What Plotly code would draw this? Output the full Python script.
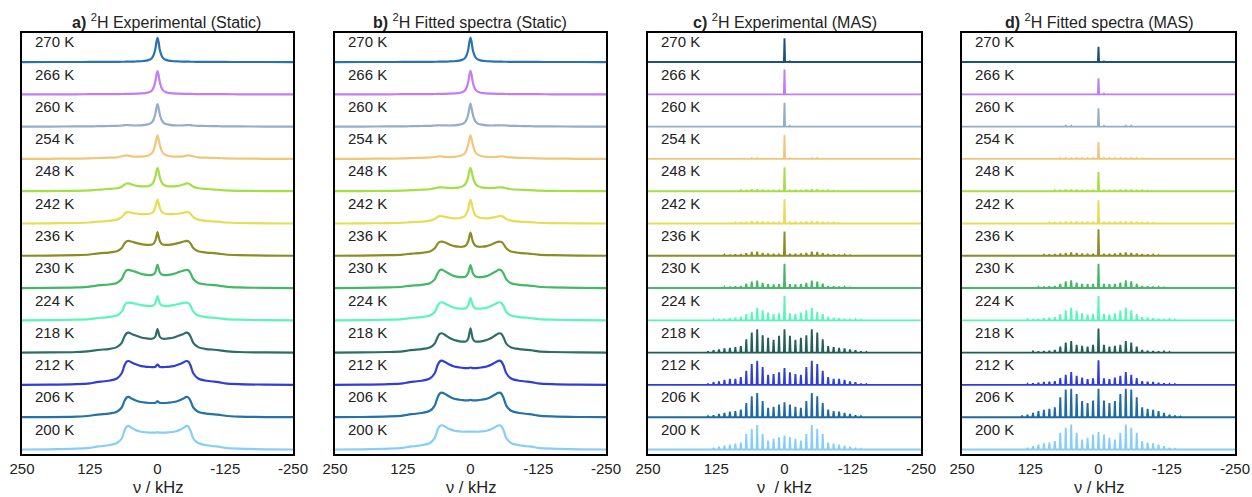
import plotly.graph_objects as go

# ---------------------------------------------------------------- data
TEMPS = ["270 K", "266 K", "260 K", "254 K", "248 K", "242 K", "236 K",
         "230 K", "224 K", "218 K", "212 K", "206 K", "200 K"]

STATIC_COLORS = ["#2773b0", "#c47cf6", "#93adca", "#f2c67a", "#a2e046",
                 "#e8dc55", "#8c8c24", "#44b864", "#5af5b9", "#2c6e66",
                 "#2f3fd4", "#2372a8", "#86cdfa"]
MAS_COLORS = ["#1c527c", "#c47cf6", "#93adca", "#f2c67a", "#a2e046",
              "#e8dc55", "#8c8c24", "#44b864", "#5af5b9", "#235f58",
              "#2f3fd4", "#1f6aa0", "#86cdfa"]

PANEL_TITLES = ["<b>a)</b> <sup>2</sup>H Experimental (Static)",
                "<b>b)</b> <sup>2</sup>H Fitted spectra (Static)",
                "<b>c)</b> <sup>2</sup>H Experimental (MAS)",
                "<b>d)</b> <sup>2</sup>H Fitted spectra (MAS)"]
AXIS_TITLES = ["\u03bd / kHz", "\u03bd / kHz", "\u03bd  / kHz", "\u03bd / kHz"]
TICK_VALS = [250, 125, 0, -125, -250]
TICK_TEXT = ["250", "125", "0", "-125", "-250"]

# static line shapes: intensity (row units) at |nu| in kHz, one row per temperature
STATIC_NU = [0, 2, 4, 7, 10, 15, 20, 30, 40, 48, 53, 57, 61, 66, 75, 90,
             105, 115, 125, 150, 200, 250]

exp_static = [
    [0.75, 0.62, 0.40, 0.22, 0.13, 0.07, 0.045, 0.025, 0.018, 0.014, 0.012, 0.011, 0.010, 0.009, 0.008, 0.006, 0.005, 0.004, 0.003, 0.002, 0.001, 0],
    [0.72, 0.60, 0.40, 0.22, 0.13, 0.07, 0.045, 0.030, 0.020, 0.016, 0.014, 0.013, 0.012, 0.010, 0.009, 0.007, 0.006, 0.005, 0.004, 0.002, 0.001, 0],
    [0.70, 0.58, 0.40, 0.23, 0.14, 0.08, 0.060, 0.040, 0.035, 0.040, 0.045, 0.050, 0.045, 0.035, 0.025, 0.020, 0.015, 0.012, 0.008, 0.005, 0.002, 0],
    [0.73, 0.62, 0.45, 0.28, 0.18, 0.12, 0.090, 0.070, 0.070, 0.080, 0.100, 0.110, 0.100, 0.080, 0.050, 0.040, 0.030, 0.025, 0.015, 0.010, 0.004, 0],
    [0.72, 0.62, 0.45, 0.30, 0.22, 0.17, 0.150, 0.150, 0.170, 0.210, 0.240, 0.240, 0.200, 0.140, 0.090, 0.070, 0.050, 0.040, 0.025, 0.012, 0.004, 0],
    [0.74, 0.64, 0.50, 0.38, 0.33, 0.30, 0.290, 0.290, 0.310, 0.330, 0.350, 0.350, 0.300, 0.200, 0.120, 0.080, 0.060, 0.050, 0.030, 0.015, 0.005, 0],
    [0.73, 0.60, 0.47, 0.38, 0.35, 0.34, 0.340, 0.360, 0.400, 0.440, 0.460, 0.450, 0.380, 0.240, 0.140, 0.100, 0.080, 0.060, 0.040, 0.020, 0.005, 0],
    [0.73, 0.62, 0.50, 0.43, 0.41, 0.40, 0.410, 0.440, 0.500, 0.540, 0.560, 0.550, 0.460, 0.280, 0.160, 0.110, 0.090, 0.070, 0.045, 0.020, 0.005, 0],
    [0.75, 0.65, 0.53, 0.47, 0.45, 0.44, 0.450, 0.470, 0.510, 0.540, 0.550, 0.540, 0.450, 0.270, 0.150, 0.100, 0.080, 0.060, 0.040, 0.020, 0.005, 0],
    [0.74, 0.62, 0.50, 0.45, 0.43, 0.43, 0.440, 0.470, 0.530, 0.580, 0.620, 0.600, 0.500, 0.300, 0.170, 0.110, 0.090, 0.070, 0.045, 0.020, 0.005, 0],
    [0.63, 0.60, 0.56, 0.55, 0.55, 0.555, 0.560, 0.580, 0.640, 0.700, 0.740, 0.720, 0.600, 0.360, 0.200, 0.130, 0.100, 0.080, 0.050, 0.025, 0.006, 0],
    [0.50, 0.47, 0.45, 0.44, 0.44, 0.44, 0.450, 0.470, 0.520, 0.580, 0.630, 0.610, 0.500, 0.300, 0.170, 0.110, 0.090, 0.070, 0.045, 0.020, 0.005, 0],
    [0.53, 0.53, 0.52, 0.52, 0.52, 0.52, 0.530, 0.550, 0.600, 0.670, 0.730, 0.710, 0.580, 0.340, 0.200, 0.130, 0.100, 0.080, 0.050, 0.025, 0.006, 0],
]

fit_static = [
    [0.76, 0.62, 0.40, 0.22, 0.13, 0.07, 0.045, 0.025, 0.018, 0.014, 0.012, 0.011, 0.010, 0.009, 0.008, 0.006, 0.005, 0.004, 0.003, 0.002, 0.001, 0],
    [0.73, 0.60, 0.40, 0.22, 0.13, 0.07, 0.045, 0.030, 0.020, 0.016, 0.014, 0.013, 0.012, 0.010, 0.009, 0.007, 0.006, 0.005, 0.004, 0.002, 0.001, 0],
    [0.71, 0.58, 0.40, 0.23, 0.14, 0.08, 0.060, 0.040, 0.035, 0.038, 0.040, 0.042, 0.040, 0.035, 0.025, 0.020, 0.015, 0.012, 0.008, 0.005, 0.002, 0],
    [0.73, 0.62, 0.46, 0.29, 0.18, 0.12, 0.090, 0.065, 0.060, 0.065, 0.075, 0.080, 0.075, 0.060, 0.045, 0.035, 0.028, 0.022, 0.015, 0.010, 0.004, 0],
    [0.72, 0.62, 0.46, 0.30, 0.21, 0.15, 0.120, 0.100, 0.100, 0.110, 0.120, 0.120, 0.110, 0.090, 0.060, 0.045, 0.035, 0.028, 0.018, 0.010, 0.004, 0],
    [0.74, 0.63, 0.48, 0.32, 0.24, 0.19, 0.170, 0.160, 0.180, 0.210, 0.230, 0.230, 0.200, 0.140, 0.090, 0.060, 0.045, 0.035, 0.022, 0.012, 0.004, 0],
    [0.72, 0.60, 0.46, 0.35, 0.30, 0.28, 0.280, 0.300, 0.360, 0.420, 0.440, 0.430, 0.360, 0.230, 0.130, 0.090, 0.070, 0.055, 0.035, 0.018, 0.005, 0],
    [0.72, 0.61, 0.48, 0.39, 0.35, 0.34, 0.340, 0.370, 0.450, 0.530, 0.570, 0.550, 0.450, 0.270, 0.150, 0.100, 0.080, 0.065, 0.040, 0.020, 0.005, 0],
    [0.70, 0.60, 0.48, 0.40, 0.37, 0.36, 0.360, 0.390, 0.460, 0.530, 0.560, 0.540, 0.440, 0.260, 0.150, 0.100, 0.080, 0.060, 0.040, 0.020, 0.005, 0],
    [0.75, 0.60, 0.44, 0.36, 0.34, 0.34, 0.350, 0.390, 0.470, 0.560, 0.600, 0.580, 0.470, 0.280, 0.160, 0.110, 0.085, 0.065, 0.040, 0.020, 0.005, 0],
    [0.54, 0.53, 0.52, 0.52, 0.52, 0.53, 0.540, 0.570, 0.640, 0.720, 0.750, 0.720, 0.600, 0.360, 0.200, 0.130, 0.100, 0.080, 0.050, 0.025, 0.006, 0],
    [0.54, 0.53, 0.52, 0.52, 0.52, 0.53, 0.540, 0.570, 0.650, 0.730, 0.760, 0.730, 0.600, 0.360, 0.200, 0.130, 0.100, 0.080, 0.050, 0.025, 0.006, 0],
    [0.55, 0.55, 0.55, 0.55, 0.55, 0.55, 0.560, 0.580, 0.640, 0.720, 0.750, 0.720, 0.600, 0.350, 0.200, 0.130, 0.100, 0.080, 0.050, 0.025, 0.006, 0],
]

# MAS spectra: spinning-sideband heights (row units) for orders n = 0..15
SPIN_RATE_KHZ = 10.0

exp_mas = [
    [0.74, 0.02, 0.02, 0.02, 0.02, 0.02, 0.02, 0.015, 0.01, 0.01, 0.01, 0, 0, 0, 0, 0],
    [0.77, 0.015, 0.015, 0.015, 0.015, 0.015, 0.015, 0.01, 0.01, 0.01, 0, 0, 0, 0, 0, 0],
    [0.74, 0.02, 0.02, 0.02, 0.02, 0.02, 0.02, 0.015, 0.01, 0.01, 0.01, 0, 0, 0, 0, 0],
    [0.75, 0.02, 0.02, 0.02, 0.02, 0.025, 0.025, 0.02, 0.015, 0.01, 0.01, 0, 0, 0, 0, 0],
    [0.74, 0.04, 0.04, 0.04, 0.05, 0.06, 0.06, 0.04, 0.03, 0.02, 0.015, 0.01, 0, 0, 0, 0],
    [0.75, 0.05, 0.05, 0.05, 0.06, 0.07, 0.07, 0.05, 0.04, 0.03, 0.02, 0.015, 0.01, 0, 0, 0],
    [0.75, 0.06, 0.06, 0.07, 0.09, 0.13, 0.12, 0.08, 0.05, 0.04, 0.035, 0.03, 0.02, 0.01, 0, 0],
    [0.75, 0.12, 0.11, 0.12, 0.16, 0.23, 0.20, 0.14, 0.06, 0.05, 0.04, 0.03, 0.02, 0.015, 0.01, 0],
    [0.75, 0.22, 0.19, 0.24, 0.31, 0.39, 0.26, 0.19, 0.11, 0.08, 0.06, 0.05, 0.04, 0.03, 0.02, 0.01],
    [0.72, 0.52, 0.40, 0.46, 0.54, 0.72, 0.62, 0.41, 0.20, 0.17, 0.15, 0.13, 0.10, 0.07, 0.04, 0.02],
    [0.52, 0.39, 0.34, 0.31, 0.55, 0.75, 0.65, 0.44, 0.24, 0.19, 0.19, 0.16, 0.11, 0.08, 0.04, 0.02],
    [0.46, 0.39, 0.32, 0.29, 0.50, 0.75, 0.65, 0.44, 0.24, 0.19, 0.17, 0.13, 0.10, 0.06, 0.03, 0.01],
    [0.43, 0.38, 0.33, 0.28, 0.48, 0.76, 0.64, 0.48, 0.21, 0.18, 0.15, 0.12, 0.09, 0.05, 0.02, 0.01],
]

fit_mas = [
    [0.47, 0.02, 0.02, 0.02, 0.02, 0.02, 0.02, 0.015, 0.01, 0.01, 0.01, 0, 0, 0, 0, 0],
    [0.50, 0.02, 0.02, 0.02, 0.02, 0.02, 0.02, 0.015, 0.01, 0.01, 0.01, 0, 0, 0, 0, 0],
    [0.57, 0.02, 0.02, 0.02, 0.02, 0.025, 0.025, 0.02, 0.015, 0.01, 0.01, 0, 0, 0, 0, 0],
    [0.52, 0.025, 0.025, 0.025, 0.03, 0.035, 0.03, 0.025, 0.02, 0.015, 0.01, 0, 0, 0, 0, 0],
    [0.59, 0.04, 0.04, 0.04, 0.05, 0.05, 0.05, 0.04, 0.03, 0.02, 0.015, 0.01, 0, 0, 0, 0],
    [0.72, 0.05, 0.05, 0.05, 0.06, 0.06, 0.06, 0.05, 0.04, 0.03, 0.02, 0.015, 0.01, 0, 0, 0],
    [0.82, 0.06, 0.06, 0.07, 0.09, 0.10, 0.09, 0.07, 0.05, 0.04, 0.03, 0.02, 0.015, 0.01, 0, 0],
    [0.75, 0.13, 0.12, 0.13, 0.17, 0.24, 0.21, 0.13, 0.06, 0.05, 0.04, 0.03, 0.02, 0.015, 0.01, 0],
    [0.75, 0.20, 0.18, 0.22, 0.30, 0.39, 0.31, 0.19, 0.10, 0.08, 0.06, 0.05, 0.04, 0.03, 0.02, 0.01],
    [0.75, 0.24, 0.19, 0.21, 0.24, 0.36, 0.31, 0.19, 0.08, 0.06, 0.05, 0.04, 0.03, 0.02, 0.01, 0],
    [0.76, 0.20, 0.18, 0.23, 0.28, 0.40, 0.31, 0.21, 0.12, 0.10, 0.09, 0.07, 0.05, 0.03, 0.02, 0],
    [0.88, 0.52, 0.44, 0.50, 0.72, 0.88, 0.86, 0.62, 0.31, 0.26, 0.23, 0.19, 0.13, 0.08, 0.05, 0.02],
    [0.54, 0.46, 0.36, 0.31, 0.52, 0.77, 0.67, 0.52, 0.26, 0.21, 0.19, 0.15, 0.10, 0.05, 0.02, 0.01],
]

# ---------------------------------------------------------------- layout
W, H = 1252, 497
FONT = "Liberation Sans, Arial, sans-serif"
TEXT_COLOR = "#222222"
PANEL_X = [(22, 293), (335, 606), (648, 921), (962, 1235)]   # plot areas, px
PLOT_TOP, PLOT_BOTTOM = 33, 454
TITLE_CENTERS = [166, 470, 785, 1099]
N_ROWS = len(TEMPS)
Y_RANGE = [-0.14, N_ROWS - 0.1]
LABEL_NU = 190
LABEL_LIFT = 0.63


def mirrored(nu, vals):
    xs = [-v for v in reversed(nu)] + list(nu[1:])
    ys = list(reversed(vals)) + list(vals[1:])
    return xs, ys


def stick_spectrum(heights, rate, half_width=1.1, limit=250):
    xs, ys = [limit], [0.0]
    orders = list(range(len(heights) - 1, -len(heights), -1))
    for n in orders:
        h = heights[abs(n)]
        c = n * rate
        xs += [c + half_width, c, c - half_width]
        ys += [0.0, h, 0.0]
    xs.append(-limit)
    ys.append(0.0)
    return xs, ys


fig = go.Figure()
panels = [("static", exp_static, STATIC_COLORS),
          ("static", fit_static, STATIC_COLORS),
          ("mas", exp_mas, MAS_COLORS),
          ("mas", fit_mas, MAS_COLORS)]

annotations = []
for p, (kind, rows, colors) in enumerate(panels):
    ax = "" if p == 0 else str(p + 1)
    xref, yref = "x" + ax, "y" + ax
    for i, vals in enumerate(rows):
        offset = N_ROWS - 1 - i
        if kind == "static":
            xs, ys = mirrored(STATIC_NU, vals)
            line = dict(color=colors[i], width=2.2, shape="spline", smoothing=0.7)
        else:
            xs, ys = stick_spectrum(vals, SPIN_RATE_KHZ)
            line = dict(color=colors[i], width=1.9)
        fig.add_trace(go.Scatter(
            x=xs, y=[offset + v for v in ys], mode="lines", line=line,
            hoverinfo="skip", showlegend=False, xaxis=xref, yaxis=yref))
        annotations.append(dict(
            x=LABEL_NU, y=offset + LABEL_LIFT, xref=xref, yref=yref,
            text=TEMPS[i], showarrow=False, xanchor="center", yanchor="middle",
            font=dict(family=FONT, size=15, color=TEXT_COLOR)))

    x0, x1 = PANEL_X[p]
    fig.layout["xaxis" + ax] = dict(
        domain=[x0 / W, x1 / W], range=[250, -250], anchor=yref,
        tickvals=TICK_VALS, ticktext=TICK_TEXT, ticks="", automargin=False,
        showgrid=False, zeroline=False, showline=True, mirror=True,
        linecolor="black", linewidth=2,
        tickfont=dict(family=FONT, size=15, color=TEXT_COLOR))
    fig.layout["yaxis" + ax] = dict(
        domain=[1 - PLOT_BOTTOM / H, 1 - PLOT_TOP / H], range=Y_RANGE,
        anchor=xref, showticklabels=False, ticks="", showgrid=False,
        automargin=False, zeroline=False, showline=True, mirror=True,
        linecolor="black", linewidth=2)

    annotations.append(dict(
        x=TITLE_CENTERS[p] / W, y=1 - 21 / H, xref="paper", yref="paper",
        text=PANEL_TITLES[p], showarrow=False, xanchor="center",
        yanchor="middle", font=dict(family=FONT, size=16, color=TEXT_COLOR)))
    annotations.append(dict(
        x=(x0 + x1) / 2 / W, y=1 - 487 / H, xref="paper", yref="paper",
        text=AXIS_TITLES[p], showarrow=False, xanchor="center",
        yanchor="middle", font=dict(family=FONT, size=16.5, color=TEXT_COLOR)))

fig.update_layout(
    width=W, height=H, margin=dict(l=0, r=0, t=0, b=0, autoexpand=False),
    paper_bgcolor="white", plot_bgcolor="white",
    annotations=annotations)

fig.write_html("out.html")
